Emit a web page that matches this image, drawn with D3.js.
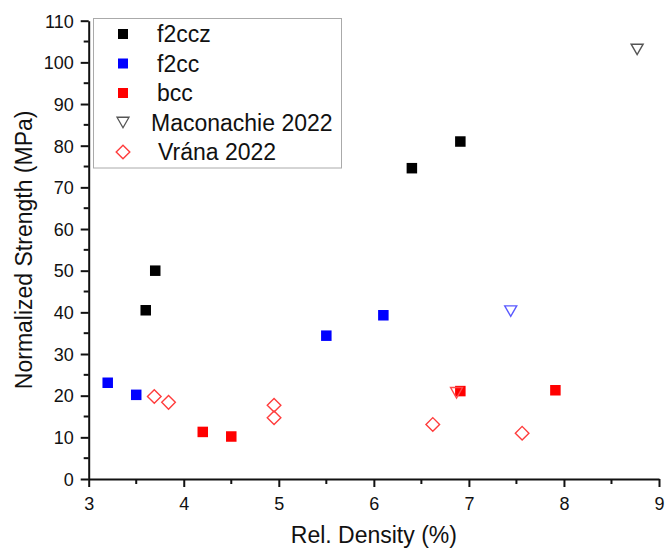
<!DOCTYPE html>
<html><head><meta charset="utf-8">
<script src="https://cdn.jsdelivr.net/npm/d3@7"></script>
<style>body{margin:0;background:#fff}svg{display:block}text{font-family:"Liberation Sans",Arial,sans-serif;fill:#111}</style>
</head><body><svg id="c" width="665" height="549"></svg>
<script>
// ---- data ----
const f2cczX = [3.6, 3.7, 6.4, 6.91];
const f2cczY = [40.5, 50.0, 74.6, 81.0];
const f2ccX = [3.2, 3.5, 5.5, 6.1];
const f2ccY = [23.1, 20.2, 34.4, 39.3];
const bccX = [4.2, 4.5, 6.91, 7.91];
const bccY = [11.3, 10.2, 21.1, 21.3];
const macX = [8.77, 7.44, 6.87];
const macY = [103.1, 40.3, 20.7];
const macType = ["f2ccz", "f2cc", "bcc"];
const vranaX = [3.69, 3.84, 4.95, 4.95, 6.62, 7.56];
const vranaY = [19.8, 18.4, 17.7, 14.7, 13.1, 11.0];
const xTicks = [3, 4, 5, 6, 7, 8, 9];
const yTicks = [0, 10, 20, 30, 40, 50, 60, 70, 80, 90, 100, 110];
const legendLabels = ["f2ccz", "f2cc", "bcc", "Maconachie 2022", "Vrána 2022"];

const svg = d3.select("#c");
const x = d3.scaleLinear().domain([3, 9]).range([88.7, 659]);
const y = d3.scaleLinear().domain([0, 110]).range([479, 20.7]);

const solid = {f2ccz: "#000000", f2cc: "#0000ff", bcc: "#ff0000"};
const light = {f2ccz: "#555555", f2cc: "#5a5aff", bcc: "#ff4a4a"};

// axes
const xMinor = d3.range(3.5, 9, 1);
const yMinor = d3.range(5, 110, 10);
const ax = svg.append("g").attr("transform", "translate(0,479)");
ax.call(d3.axisBottom(x).tickValues(xTicks).tickFormat(d3.format("d")).tickSize(8).tickSizeOuter(0));
ax.selectAll(".minor").data(xMinor).enter().append("line").attr("class", "minor")
  .attr("x1", d => x(d)).attr("x2", d => x(d)).attr("y1", 0).attr("y2", 5)
  .attr("stroke", "#111").attr("stroke-width", 2);
const ay = svg.append("g").attr("transform", "translate(88.7,0)");
ay.call(d3.axisLeft(y).tickValues(yTicks).tickFormat(d3.format("d")).tickSize(8).tickSizeOuter(0));
ay.selectAll(".minor").data(yMinor).enter().append("line").attr("class", "minor")
  .attr("y1", d => y(d)).attr("y2", d => y(d)).attr("x1", 0).attr("x2", -5)
  .attr("stroke", "#111").attr("stroke-width", 2);
svg.selectAll(".domain").attr("stroke", "#111").attr("stroke-width", 2);
svg.selectAll(".tick line").attr("stroke", "#111").attr("stroke-width", 2);
svg.selectAll(".tick text").attr("font-size", 18).attr("font-family", "Liberation Sans, Arial, sans-serif").attr("fill", "#111");
ax.selectAll(".tick text").attr("dy", "0").attr("y", 30.5);
ay.selectAll(".tick text").attr("x", -15).attr("dy", "0.35em");

// axis titles
svg.append("text").attr("x", (x(3) + x(9)) / 2).attr("y", 543).attr("text-anchor", "middle")
  .attr("font-size", 23).text("Rel. Density (%)");
svg.append("text").attr("transform", "translate(32," + ((y(0) + y(110)) / 2) + ") rotate(-90)")
  .attr("text-anchor", "middle").attr("font-size", 23).text("Normalized Strength (MPa)");

// marker helpers
const sq = 10.5;
function squares(xs, ys, color) {
  svg.append("g").selectAll("rect").data(xs).enter().append("rect")
    .attr("x", (d) => x(d) - sq / 2).attr("y", (d, i) => y(ys[i]) - sq / 2)
    .attr("width", sq).attr("height", sq).attr("fill", color);
}
function triPath(cx, cy) {
  const w = 12, h = 10.5;
  return `M${cx - w / 2},${cy - h / 2}L${cx + w / 2},${cy - h / 2}L${cx},${cy + h / 2}Z`;
}
function diaPath(cx, cy) {
  const r = 6.8;
  return `M${cx},${cy - r}L${cx + r},${cy}L${cx},${cy + r}L${cx - r},${cy}Z`;
}

// Vrána diamonds
svg.append("g").selectAll("path").data(vranaX).enter().append("path")
  .attr("d", (d, i) => diaPath(x(d), y(vranaY[i])))
  .attr("fill", "none").attr("stroke", "#ff3c3c").attr("stroke-width", 1.4);

squares(f2cczX, f2cczY, solid.f2ccz);
squares(f2ccX, f2ccY, solid.f2cc);
squares(bccX, bccY, solid.bcc);

// Maconachie triangles
svg.append("g").selectAll("path").data(macX).enter().append("path")
  .attr("d", (d, i) => triPath(x(d), y(macY[i])))
  .attr("fill", "none").attr("stroke", (d, i) => light[macType[i]]).attr("stroke-width", 1.4);

// legend
const lg = svg.append("g");
lg.append("rect").attr("x", 93.5).attr("y", 18.5).attr("width", 248).attr("height", 149.5)
  .attr("fill", "#fff").attr("stroke", "#aaa").attr("stroke-width", 1);
const rowY = d3.scalePoint().domain(legendLabels).range([34, 152]);
const textX = {"Maconachie 2022": 151, "Vrána 2022": 158};
legendLabels.forEach((lab, i) => {
  const cy = rowY(lab), cx = 123;
  if (i < 3) {
    lg.append("rect").attr("x", cx - 5).attr("y", cy - 5).attr("width", 10).attr("height", 10)
      .attr("fill", solid[["f2ccz", "f2cc", "bcc"][i]]);
  } else if (i === 3) {
    lg.append("path").attr("d", triPath(cx, cy)).attr("fill", "none").attr("stroke", "#555").attr("stroke-width", 1.3);
  } else {
    lg.append("path").attr("d", diaPath(cx, cy)).attr("fill", "none").attr("stroke", "#ff3c3c").attr("stroke-width", 1.4);
  }
  lg.append("text").attr("x", textX[lab] || 157).attr("y", cy + 8.2).attr("font-size", 23).text(lab);
});
</script></body></html>
